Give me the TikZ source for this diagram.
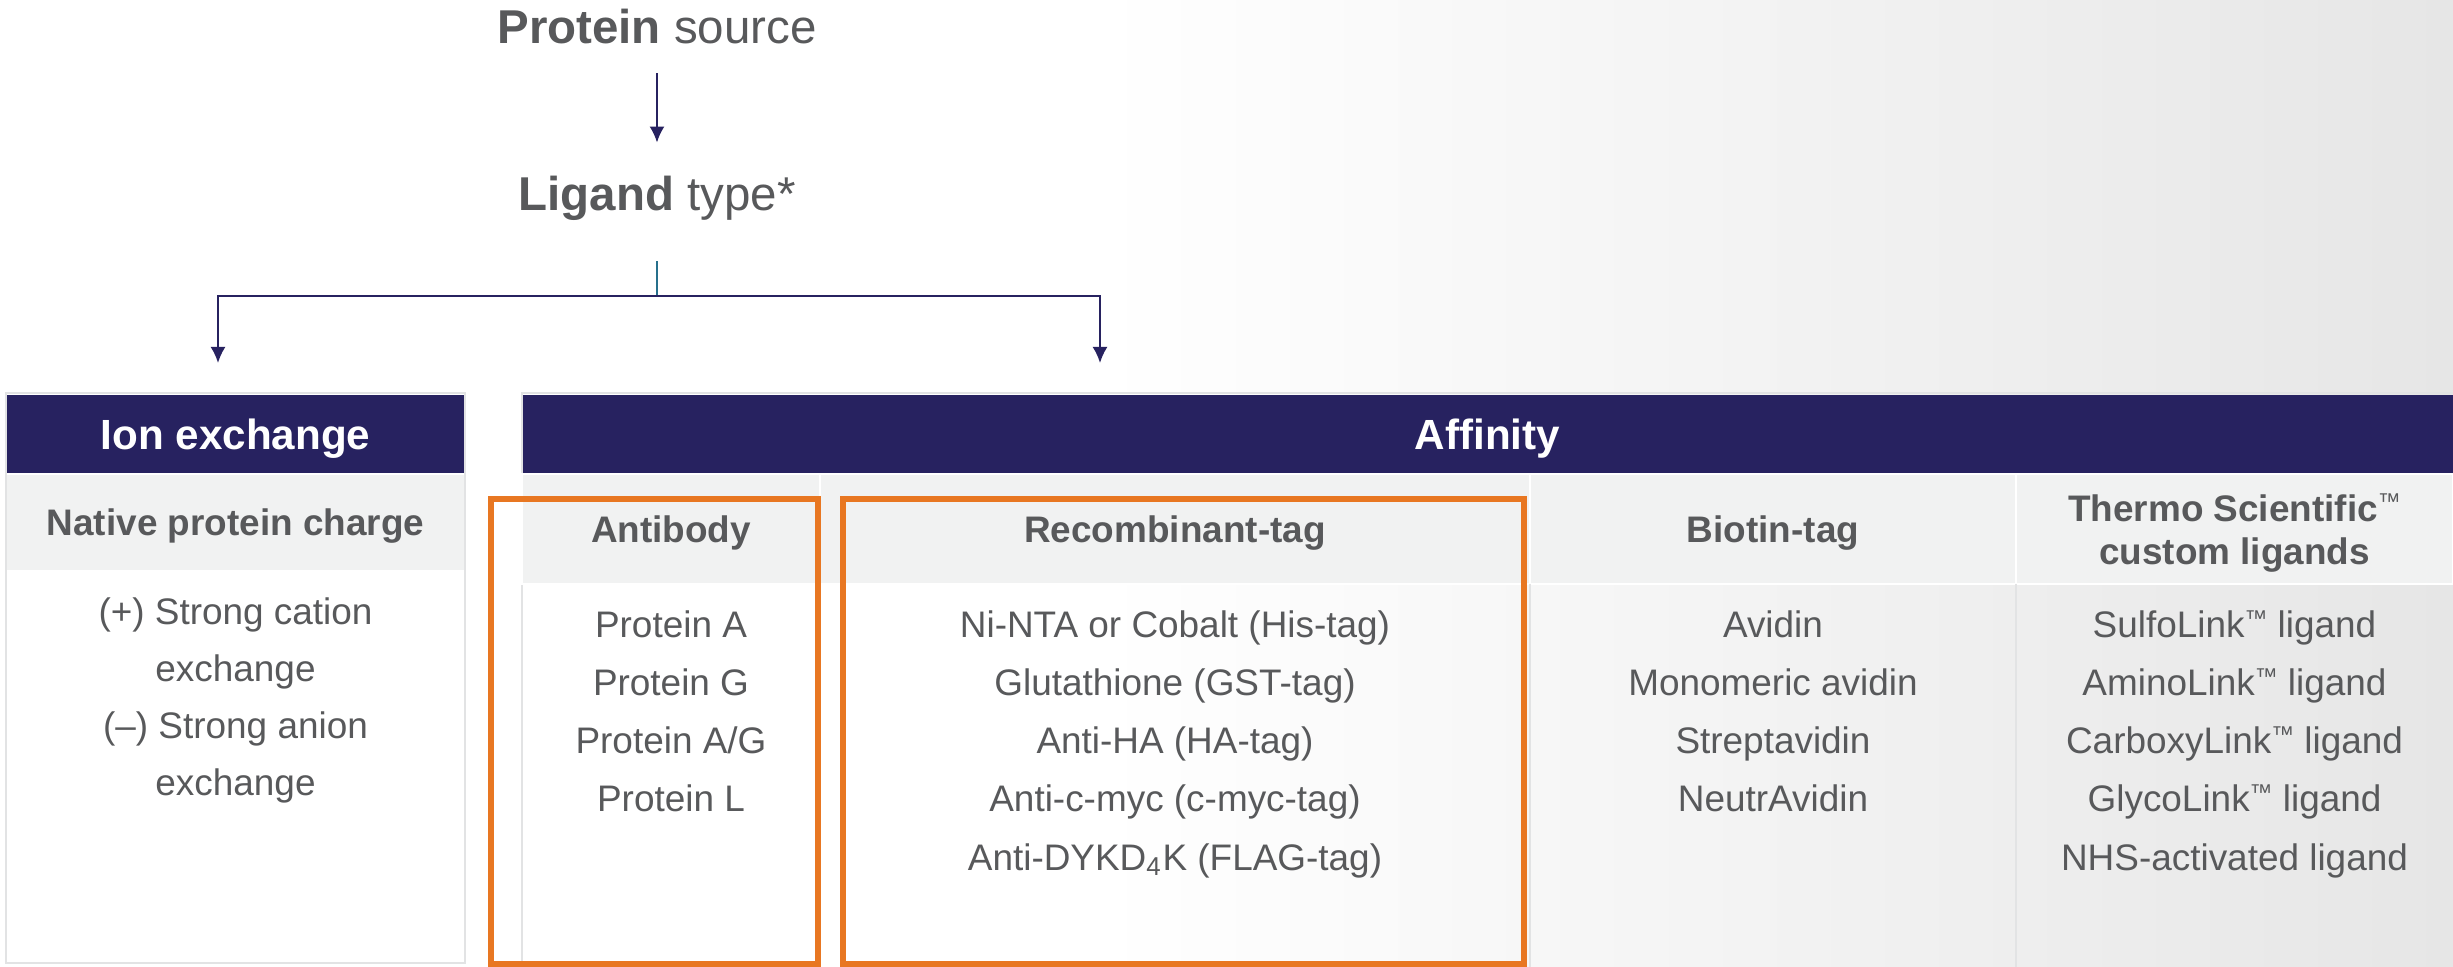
\documentclass[tikz,border=0pt]{standalone}
\usepackage{fontspec}
\setmainfont{Liberation Sans}
\usetikzlibrary{arrows.meta,positioning}
\definecolor{accentnavy}{RGB}{39,34,96}
\definecolor{accentorange}{RGB}{232,119,34}
\definecolor{accentteal}{RGB}{38,112,140}
\definecolor{textgray}{RGB}{88,89,91}
\definecolor{cellgray}{RGB}{241,242,242}
\definecolor{rulegray}{RGB}{226,227,228}
\definecolor{fadegray}{RGB}{230,230,230}
\newcommand{\tmark}{\raisebox{0.32em}{\fontsize{6.5}{7}\mdseries\selectfont ™}}

\begin{document}
\begin{tikzpicture}[x=0.01cm, y=-0.01cm,
    every node/.style={inner sep=0pt, outer sep=0pt, text=textgray},
    bodytext/.style={anchor=base, font=\fontsize{10.5}{12}\selectfont},
    subhead/.style={fill=cellgray, draw=white, line width=0.5pt, align=center, text depth=0pt, font=\bfseries\fontsize{10.5}{12.2}\selectfont},
    headbar/.style={fill=accentnavy, text=white, text depth=0pt, minimum height=0.78cm, font=\bfseries\fontsize{12}{14}\selectfont},
    link/.style={draw=accentnavy, line width=0.6pt, -{Latex[length=0.16cm,width=0.15cm]}},
    hilite/.style={draw=accentorange, line width=1.7pt}]
        \useasboundingbox (0,0) rectangle (2453,967);
        \fill[white] (0,0) rectangle (1100,967);
        \shade[left color=white, right color=fadegray] (1100,0) rectangle (2453,967);

        \node[anchor=base, font=\fontsize{13.5}{16}\selectfont] (source) at (657,44) {\textbf{Protein} source};
        \node[anchor=base, font=\fontsize{13.5}{16}\selectfont] (ligand) at (657,211) {\textbf{Ligand} type*};
        \coordinate (split) at (657,296);
        \coordinate (ionin) at (218,363);
        \coordinate (affin) at (1100,363);
        \draw[link, shorten <=0.29cm, shorten >=0.34cm] (source) -- (ligand);
        \draw[accentteal, line width=0.4pt, shorten <=0.4cm] (ligand) -- (split);
        \draw[link] (split) -| (ionin);
        \draw[link] (split) -| (affin);

        \node[headbar, minimum width=4.59cm] (ionhead) at (235.5,434) {Ion exchange};
        \node[headbar, minimum width=19.31cm] (affhead) at (1487.5,434) {Affinity};
        \node[subhead, minimum width=4.59cm, minimum height=0.97cm] (ionsub) at (235.5,522.5) {Native protein charge};
        \fill[white] (6,571) rectangle (465,962);
        \draw[rulegray, line width=0.6pt] (6,393) rectangle (465,963);
        \draw[rulegray, line width=0.6pt] (522,967) -- (522,393) -- (2453,393);

        \node[subhead, minimum width=2.98cm, minimum height=1.10cm] (absub) at (671,529) {Antibody};
        \node[subhead, minimum width=7.10cm, minimum height=1.10cm] (recsub) at (1175,529) {Recombinant-tag};
        \node[subhead, minimum width=4.86cm, minimum height=1.10cm] (biosub) at (1773,529) {Biotin-tag};
        \node[subhead, minimum width=4.37cm, minimum height=1.10cm] (thermosub) at (2234.5,529) {Thermo Scientific\tmark\\custom ligands};
        \foreach \xd in {820,1530,2016}
            \draw[rulegray, line width=0.5pt] (\xd,584) -- (\xd,967);

        \foreach \t [count=\i] in {{(+) Strong cation}, exchange, {(–) Strong anion}, exchange}
            \node[bodytext] (ion\i) at (235.5,{568+57*\i}) {\t};
        \foreach \t [count=\i] in {Protein A, Protein G, Protein A/G, Protein L}
            \node[bodytext] (ab\i) at (671,{580+58*\i}) {\t};
        \foreach \t [count=\i] in {{Ni-NTA or Cobalt (His-tag)}, {Glutathione (GST-tag)}, {Anti-HA (HA-tag)}, {Anti-c-myc (c-myc-tag)}, {Anti-DYKD\textsubscript{4}K (FLAG-tag)}}
            \node[bodytext] (rec\i) at (1175,{580+58*\i}) {\t};
        \foreach \t [count=\i] in {Avidin, Monomeric avidin, Streptavidin, NeutrAvidin}
            \node[bodytext] (bio\i) at (1773,{580+58*\i}) {\t};
        \foreach \t [count=\i] in {SulfoLink\tmark{} ligand, AminoLink\tmark{} ligand, CarboxyLink\tmark{} ligand, GlycoLink\tmark{} ligand, NHS-activated ligand}
            \node[bodytext] (cl\i) at (2234.5,{580+58*\i}) {\t};

        \draw[hilite] (491,499) rectangle (818,964);
        \draw[hilite] (843,499) rectangle (1524,964);
      \end{tikzpicture}
\end{document}
